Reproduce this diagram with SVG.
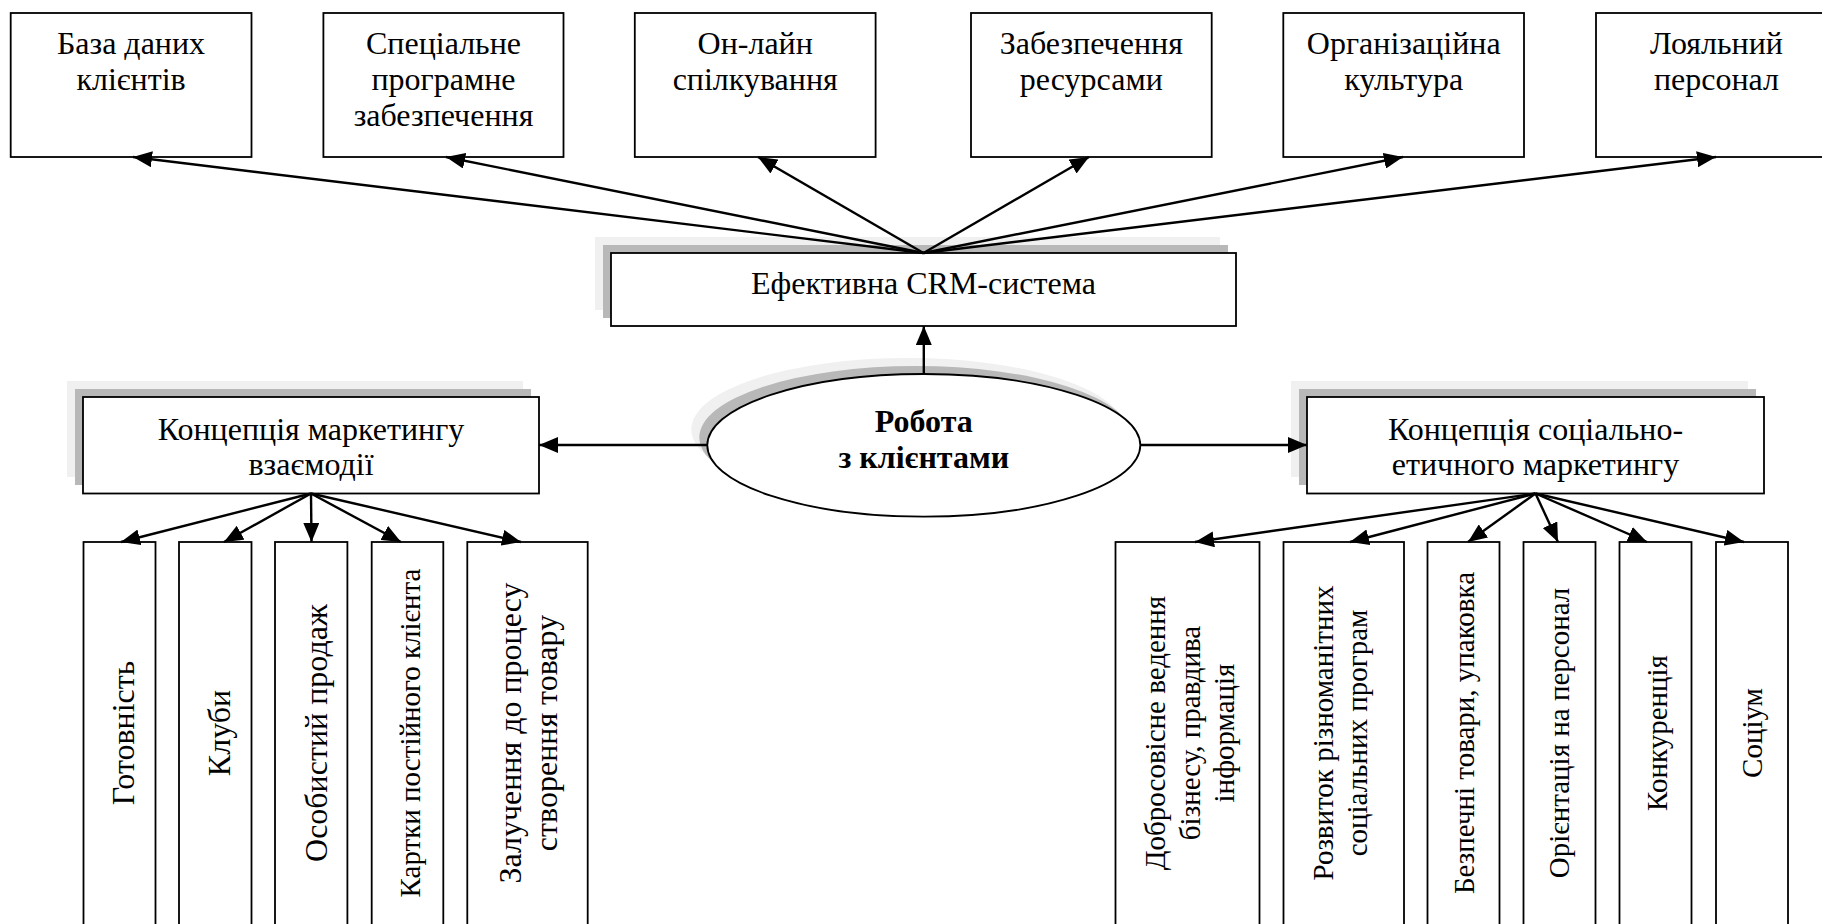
<svg xmlns="http://www.w3.org/2000/svg" width="1822" height="924" viewBox="0 0 1822 924">
<style>
.bx{fill:#fff;stroke:#000;stroke-width:1.8}
.sh1{fill:#f0f0f0;stroke:none}
.sh2{fill:#b8b8b8;stroke:none}
.t{font-family:"Liberation Serif","Times New Roman",serif;font-size:32px;fill:#000;text-anchor:middle}
.s{font-size:29px}
.b{font-weight:bold}
.c{stroke:#000;stroke-width:2.4;fill:none;marker-end:url(#ah)}
</style>
<defs>
<marker id="ah" markerUnits="userSpaceOnUse" markerWidth="20" markerHeight="16" refX="19" refY="8" orient="auto">
<path d="M0,0 L19,8 L0,16 z" fill="#000"/>
</marker>
</defs>
<rect width="1822" height="924" fill="#fff"/>

<g id="top-boxes">
<g id="n-baza"><rect class="bx" x="10.7" y="13" width="240.8" height="144"/><text class="t" x="131" y="53.5">База даних<tspan x="131" dy="36">клієнтів</tspan></text></g>
<g id="n-spec"><rect class="bx" x="323.4" y="13" width="240.1" height="144"/><text class="t" x="443.5" y="53.5">Спеціальне<tspan x="443.5" dy="36">програмне</tspan><tspan x="443.5" dy="36">забезпечення</tspan></text></g>
<g id="n-online"><rect class="bx" x="634.8" y="13" width="240.8" height="144"/><text class="t" x="755.2" y="53.5">Он-лайн<tspan x="755.2" dy="36">спілкування</tspan></text></g>
<g id="n-resources"><rect class="bx" x="971" y="13" width="240.7" height="144"/><text class="t" x="1091.3" y="53.5">Забезпечення<tspan x="1091.3" dy="36">ресурсами</tspan></text></g>
<g id="n-culture"><rect class="bx" x="1283.3" y="13" width="240.7" height="144"/><text class="t" x="1403.7" y="53.5">Організаційна<tspan x="1403.7" dy="36">культура</tspan></text></g>
<g id="n-loyal"><rect class="bx" x="1596" y="13" width="241" height="144"/><text class="t" x="1716.5" y="53.5">Лояльний<tspan x="1716.5" dy="36">персонал</tspan></text></g>
</g>

<g id="n-crm">
<rect class="sh1" x="595" y="237" width="625" height="73"/>
<rect class="sh2" x="603" y="245" width="625" height="73"/>
<rect class="bx" x="611" y="253" width="625" height="73"/>
<text class="t" x="923.5" y="294">Ефективна CRM-система</text>
</g>

<g id="n-center">
<ellipse cx="907.8" cy="429.3" rx="216.5" ry="71.3" fill="#f0f0f0"/>
<ellipse cx="915.8" cy="437.3" rx="216.5" ry="71.3" fill="#b8b8b8"/>
<ellipse cx="923.8" cy="445.3" rx="216.5" ry="71.3" fill="#fff" stroke="#000" stroke-width="1.8"/>
<text class="t b" x="923.8" y="431.7">Робота<tspan x="923.8" dy="36.6">з клієнтами</tspan></text>
</g>

<g id="n-left-concept">
<rect class="sh1" x="67" y="381" width="456" height="96"/>
<rect class="sh2" x="75" y="389" width="456" height="96"/>
<rect class="bx" x="83" y="397" width="456" height="96.5"/>
<text class="t" x="311" y="440">Концепція маркетингу<tspan x="311" dy="34.5">взаємодії</tspan></text>
</g>

<g id="n-right-concept">
<rect class="sh1" x="1291" y="381" width="457" height="96"/>
<rect class="sh2" x="1299" y="389" width="457" height="96"/>
<rect class="bx" x="1307" y="397" width="457" height="96.5"/>
<text class="t" x="1535.5" y="440">Концепція соціально-<tspan x="1535.5" dy="34.5">етичного маркетингу</tspan></text>
</g>

<g id="left-items">
<g id="n-gotovnist"><rect class="bx" x="83.5" y="542" width="72" height="390"/><text class="t" transform="translate(134,733) rotate(-90)">Готовність</text></g>
<g id="n-kluby"><rect class="bx" x="179" y="542" width="72.5" height="390"/><text class="t" transform="translate(229.5,733) rotate(-90)">Клуби</text></g>
<g id="n-prodazh"><rect class="bx" x="275" y="542" width="72.4" height="390"/><text class="t" transform="translate(326.5,733) rotate(-90)">Особистий продаж</text></g>
<g id="n-kartky"><rect class="bx" x="371.7" y="542" width="71.6" height="390"/><text class="t s" transform="translate(419.5,733) rotate(-90)">Картки постійного клієнта</text></g>
<g id="n-zaluch"><rect class="bx" x="467.3" y="542" width="120.4" height="390"/><text class="t" transform="translate(520.5,733) rotate(-90)">Залучення до процесу<tspan x="0" dy="36">створення товару</tspan></text></g>
</g>

<g id="right-items">
<g id="n-dobro"><rect class="bx" x="1115.5" y="542" width="144" height="390"/><text class="t s" transform="translate(1165,733) rotate(-90)">Добросовісне ведення<tspan x="0" dy="34.5">бізнесу, правдива</tspan><tspan x="0" dy="34.5">інформація</tspan></text></g>
<g id="n-rozvytok"><rect class="bx" x="1283.5" y="542" width="120.5" height="390"/><text class="t s" transform="translate(1332.5,733) rotate(-90)">Розвиток різноманітних<tspan x="0" dy="34.5">соціальних програм</tspan></text></g>
<g id="n-bezpechni"><rect class="bx" x="1427.5" y="542" width="72" height="390"/><text class="t s" transform="translate(1474,733) rotate(-90)">Безпечні товари, упаковка</text></g>
<g id="n-orient"><rect class="bx" x="1523.5" y="542" width="72" height="390"/><text class="t s" transform="translate(1568.5,733) rotate(-90)">Орієнтація на персонал</text></g>
<g id="n-konk"><rect class="bx" x="1619.5" y="542" width="72" height="390"/><text class="t s" transform="translate(1667,733) rotate(-90)">Конкуренція</text></g>
<g id="n-socium"><rect class="bx" x="1716" y="542" width="72" height="390"/><text class="t s" transform="translate(1761.6,733) rotate(-90)">Соціум</text></g>
</g>

<g id="connectors">
<line class="c" x1="923.5" y1="253" x2="133" y2="157"/>
<line class="c" x1="923.5" y1="253" x2="446" y2="157"/>
<line class="c" x1="923.5" y1="253" x2="758" y2="157"/>
<line class="c" x1="923.5" y1="253" x2="1089" y2="157"/>
<line class="c" x1="923.5" y1="253" x2="1403" y2="157"/>
<line class="c" x1="923.5" y1="253" x2="1716" y2="157"/>
<line class="c" x1="923.8" y1="374" x2="923.8" y2="326"/>
<line class="c" x1="707.3" y1="445" x2="539" y2="445"/>
<line class="c" x1="1140.3" y1="445" x2="1307" y2="445"/>
<line class="c" x1="311" y1="493.5" x2="121" y2="542"/>
<line class="c" x1="311" y1="493.5" x2="224" y2="542"/>
<line class="c" x1="311" y1="493.5" x2="311.5" y2="542"/>
<line class="c" x1="311" y1="493.5" x2="401" y2="542"/>
<line class="c" x1="311" y1="493.5" x2="521" y2="542"/>
<line class="c" x1="1535.5" y1="493.5" x2="1195" y2="542"/>
<line class="c" x1="1535.5" y1="493.5" x2="1350" y2="542"/>
<line class="c" x1="1535.5" y1="493.5" x2="1468" y2="542"/>
<line class="c" x1="1535.5" y1="493.5" x2="1558" y2="542"/>
<line class="c" x1="1535.5" y1="493.5" x2="1647" y2="542"/>
<line class="c" x1="1535.5" y1="493.5" x2="1744" y2="542"/>
</g>
</svg>
